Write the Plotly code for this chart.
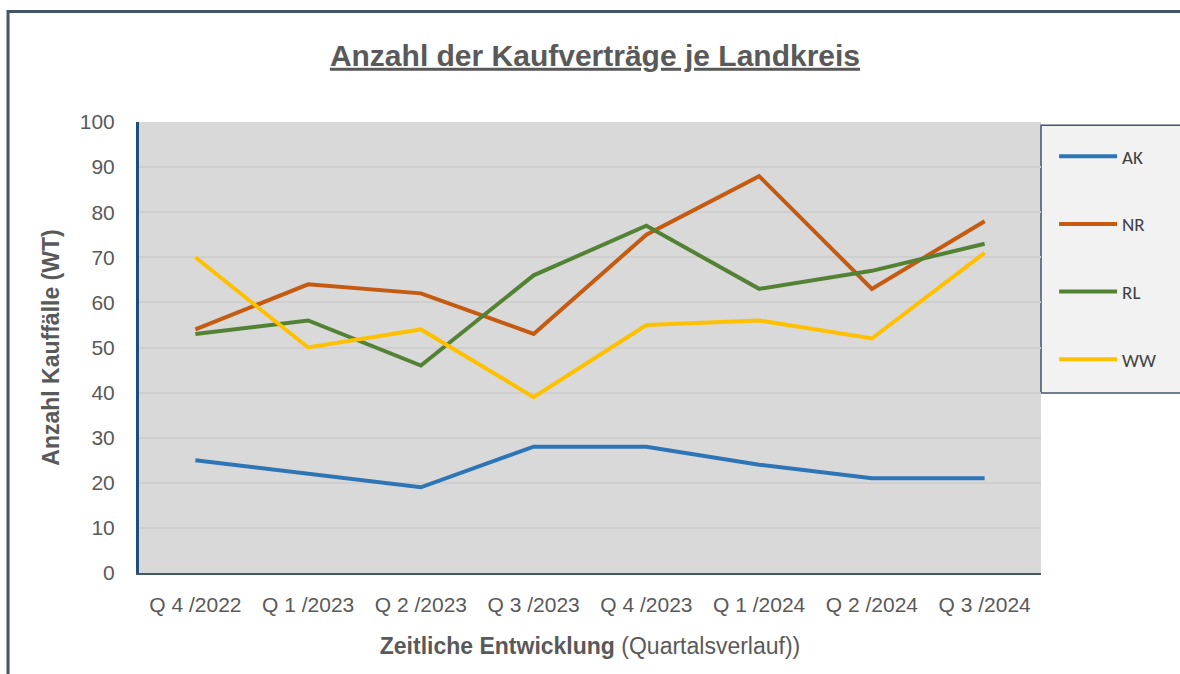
import plotly.graph_objects as go

# Daten
quartale = ["Q 4 /2022", "Q 1 /2023", "Q 2 /2023", "Q 3 /2023",
            "Q 4 /2023", "Q 1 /2024", "Q 2 /2024", "Q 3 /2024"]
ak = [25, 22, 19, 28, 28, 24, 21, 21]
nr = [54, 64, 62, 53, 75, 88, 63, 78]
rl = [53, 56, 46, 66, 77, 63, 67, 73]
ww = [70, 50, 54, 39, 55, 56, 52, 71]

serien = [("AK", ak, "#2E75B6"),
          ("NR", nr, "#C55A11"),
          ("RL", rl, "#548235"),
          ("WW", ww, "#FFC000")]

FONT = "Liberation Sans, Arial"
GRAU = "#595959"

fig = go.Figure()
for name, werte, farbe in serien:
    fig.add_trace(go.Scatter(
        x=quartale, y=werte, name=name, mode="lines",
        legendgroup=name,
        line=dict(color=farbe, width=4)
    ))

# Rahmen um das ganze Diagramm (rechts und unten aus dem Bild)
fig.add_shape(type="rect", xref="paper", yref="paper",
              x0=-0.1452, x1=1.5, y0=-0.5, y1=1.245,
              line=dict(color="#44546A", width=3), layer="below")
# Legendenkasten (läuft rechts aus dem Bild)
fig.add_shape(type="rect", xref="paper", yref="paper",
              x0=1.0, x1=1.5, y0=0.399, y1=0.993,
              fillcolor="#F2F2F2", line=dict(color="#44546A", width=1.5),
              layer="below")

fig.update_layout(
    width=1180, height=674,
    margin=dict(l=139, r=139, t=122, b=101),
    paper_bgcolor="white", plot_bgcolor="#D9D9D9",
    font=dict(family=FONT, color=GRAU, size=21),
    title=dict(text="<b><u>Anzahl der Kaufverträge je Landkreis</u></b>",
               x=0.5055, xanchor="center", xref="paper",
               y=0.918, yanchor="middle", yref="container",
               font=dict(size=30, color=GRAU)),
    showlegend=True,
    legend=dict(x=1.0145, xanchor="left", y=0.966, yanchor="top",
                bgcolor="rgba(0,0,0,0)", tracegroupgap=40, itemwidth=58,
                font=dict(family="Carlito, Lato, Liberation Sans", size=19,
                          color="#404040")),
    xaxis=dict(range=[-0.5, 7.5], showgrid=False,
               showline=True, linecolor="#44546A", linewidth=2,
               ticks="outside", ticklen=12, tickcolor="rgba(0,0,0,0)",
               tickfont=dict(size=21),
               title=dict(text="<b>Zeitliche Entwicklung</b> (Quartalsverlauf))",
                          font=dict(size=23), standoff=23)),
    yaxis=dict(range=[0, 100], dtick=10, showgrid=True,
               gridcolor="#CFCFCF", gridwidth=2, zeroline=False,
               showline=True, linecolor="#1F4E79", linewidth=3,
               ticks="outside", ticklen=17, tickcolor="rgba(0,0,0,0)",
               tickfont=dict(size=21),
               title=dict(text="<b>Anzahl Kauffälle (WT)</b>",
                          font=dict(size=23), standoff=14)),
)

# Seitenrand des Browsers entfernen, damit die Figur genau ins Fenster passt
fig.write_html("out.html",
               config={"displayModeBar": False},
               post_script="document.body.style.margin='0';"
                           "document.body.style.overflow='hidden';")
